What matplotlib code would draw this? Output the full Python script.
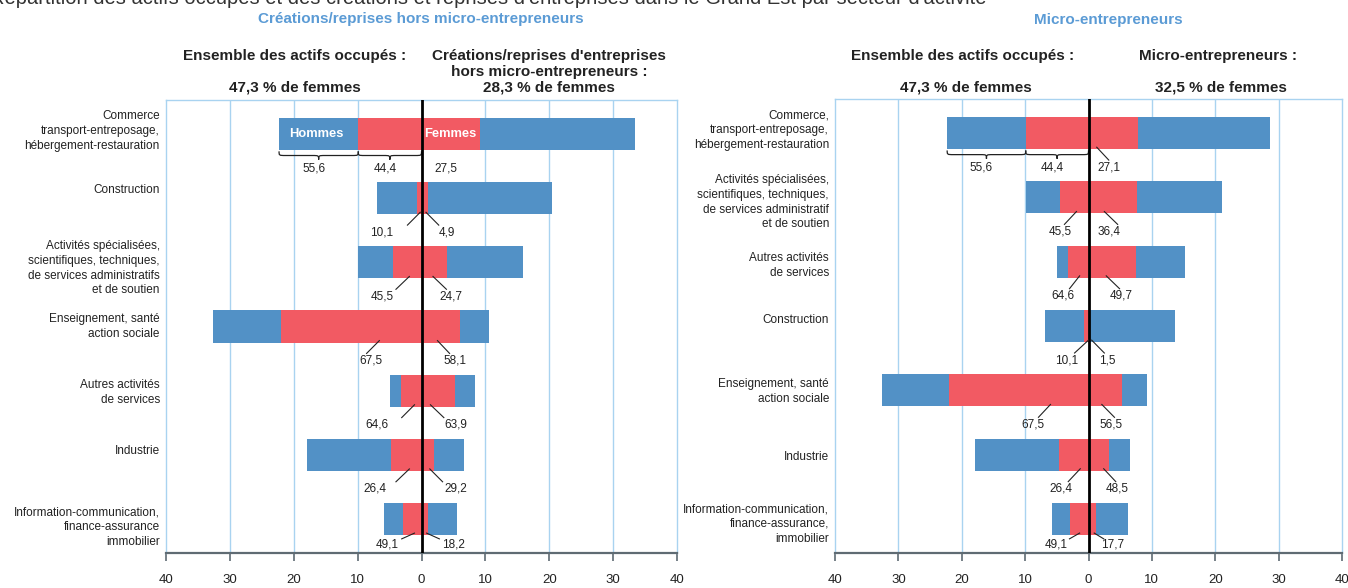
import numpy as np
import matplotlib
matplotlib.use("Agg")
import matplotlib.pyplot as plt
import matplotlib.transforms as mtransforms
from matplotlib.path import Path
from matplotlib.patches import PathPatch

plt.rcParams['font.family'] = ['Liberation Sans', 'DejaVu Sans']

# ---------------- data ----------------
# Left panel: créations/reprises hors micro-entrepreneurs
cats_left = ["Commerce\ntransport-entreposage,\nhébergement-restauration",
             "Construction",
             "Activités spécialisées,\nscientifiques, techniques,\nde services administratifs\net de soutien",
             "Enseignement, santé\naction sociale",
             "Autres activités\nde services",
             "Industrie",
             "Information-communication,\nfinance-assurance\nimmobilier"]
ens_share_left = [22.3, 6.9, 9.9, 32.6, 4.9, 17.9, 5.8]       # % of employed (left side)
ens_women_left = [44.4, 10.1, 45.5, 67.5, 64.6, 26.4, 49.1]   # % women in sector
crea_share = [33.5, 20.4, 15.9, 10.5, 8.3, 6.6, 5.5]          # % of creations
crea_women = [27.5, 4.9, 24.7, 58.1, 63.9, 29.2, 18.2]        # % women in creations
men_commerce = 55.6

# Right panel: micro-entrepreneurs
cats_right = ["Commerce,\ntransport-entreposage,\nhébergement-restauration",
              "Activités spécialisées,\nscientifiques, techniques,\nde services administratif\net de soutien",
              "Autres activités\nde services",
              "Construction",
              "Enseignement, santé\naction sociale",
              "Industrie",
              "Information-communication,\nfinance-assurance,\nimmobilier"]
ens_share_right = [22.3, 9.9, 4.9, 6.9, 32.6, 17.9, 5.8]
ens_women_right = [44.4, 45.5, 64.6, 10.1, 67.5, 26.4, 49.1]
micro_share = [28.6, 21.0, 15.2, 13.7, 9.3, 6.6, 6.3]
micro_women = [27.1, 36.4, 49.7, 1.5, 56.5, 48.5, 17.7]

xticks = [-40, -30, -20, -10, 0, 10, 20, 30, 40]

# ---------------- layout (annotation placement, data units) ----------------
# (label_x, line_at_bar_x, line_low_x) or None
ann_left_L = [None, (-6.3, -0.2, -2.2), (-6.2, -1.9, -4.0), (-7.9, -6.6, -8.6),
              (-6.9, -1.1, -3.1), (-7.3, -1.9, -4.0), (-5.4, -1.1, -3.1)]
ann_left_R = [None, (4.0, 0.7, 2.7), (4.6, 1.8, 3.9), (5.2, 2.5, 4.4),
              (5.4, 1.4, 3.5), (5.4, 1.3, 3.3), (5.0, 0.8, 2.8)]
ann_right_L = [None, (-4.4, -1.9, -3.8), (-4.1, -1.4, -3.0), (-3.4, 0.0, -2.2),
               (-8.7, -6.0, -7.9), (-4.3, -1.3, -3.2), (-5.1, -1.4, -3.0)]
ann_right_R = [(3.3, 1.3, 3.2), (3.3, 2.5, 4.6), (5.1, 2.8, 4.9), (3.0, 0.5, 2.5),
               (3.6, 2.1, 4.1), (4.5, 2.4, 4.3), (3.8, 0.9, 2.4)]
lab_dy_left = [-3, -8, 6, 0, 2, -4, 8]      # px offsets of category labels
lab_dy_right = [-3, 5, 4, -6, 1, 2, 5]

BLUE = "#5291c6"
RED = "#f25a63"
GRID = "#a9d3f0"
AXIS = "#5f6b73"
TITLE_BLUE = "#5b9bd5"
TXT = "#222222"
PX_ROW = 64.5
FS_CAT = 8.5
FS_VAL = 8.5

fig = plt.figure(figsize=(13.48, 5.88), dpi=100)
axL = fig.add_axes([166/1348, 1-553/588, 511/1348, 453/588])
axR = fig.add_axes([835/1348, 1-553/588, 507/1348, 454/588])


def fmt(v):
    return f"{v:.1f}".replace(".", ",")


def brace(ax, x0, x1, y, h, k):
    xm = (x0 + x1) / 2
    ym = y + h * 0.5
    verts = [(x0, y), (x0, ym), (x0, ym), (x0 + k, ym),
             (xm - k, ym),
             (xm, ym), (xm, ym), (xm, y + h),
             (xm, ym), (xm, ym), (xm + k, ym),
             (x1 - k, ym),
             (x1, ym), (x1, ym), (x1, y)]
    codes = [Path.MOVETO, Path.CURVE4, Path.CURVE4, Path.CURVE4,
             Path.LINETO,
             Path.CURVE4, Path.CURVE4, Path.CURVE4,
             Path.CURVE4, Path.CURVE4, Path.CURVE4,
             Path.LINETO,
             Path.CURVE4, Path.CURVE4, Path.CURVE4]
    ax.add_patch(PathPatch(Path(verts, codes), fc="none", ec=TXT, lw=0.9, zorder=4))


def panel(ax, cats, e_share, e_w, o_share, o_w, annL, annR, lab_dy):
    n = len(cats)
    y = np.arange(n)
    e_share = np.array(e_share); o_share = np.array(o_share)
    e_f = e_share * np.array(e_w) / 100
    o_f = o_share * np.array(o_w) / 100
    ax.barh(y, -e_share, height=0.5, color=BLUE, zorder=2)
    ax.barh(y, -e_f, height=0.5, color=RED, zorder=2)
    ax.barh(y, o_share, height=0.5, color=BLUE, zorder=2)
    ax.barh(y, o_f, height=0.5, color=RED, zorder=2)
    ax.set_xlim(-40, 40)
    ax.set_ylim(n - 0.47, -0.53)
    ax.axvline(0, color="black", lw=2.0, zorder=5)
    for gx in [-30, -20, -10, 10, 20, 30]:
        ax.axvline(gx, color=GRID, lw=1.0, zorder=1)
    for s in ["top", "left", "right"]:
        ax.spines[s].set_color(GRID)
        ax.spines[s].set_linewidth(1.0)
    ax.spines["bottom"].set_color(AXIS)
    ax.spines["bottom"].set_linewidth(1.6)
    ax.set_yticks([])
    ax.set_xticks(xticks)
    ax.set_xticklabels([str(abs(t)) for t in xticks], fontsize=9.5, color=TXT)
    ax.tick_params(axis="x", direction="out", length=5.8, width=1.2, color=AXIS, pad=9)
    trans = mtransforms.blended_transform_factory(ax.transAxes, ax.transData)
    for i, c in enumerate(cats):
        ax.text(-0.012, i + lab_dy[i] / PX_ROW, c, transform=trans, ha="right", va="center",
                fontsize=FS_CAT, color=TXT, linespacing=1.3)
    # value annotations
    for i in range(n):
        last = (i == n - 1)
        ly = i + (0.40 if last else 0.53)
        y_hi = i + 0.22
        y_lo = i + (0.31 if last else 0.42)
        for a, val in ((annL[i], e_w[i]), (annR[i], o_w[i])):
            if a is None:
                continue
            lx, xb, xl = a
            ax.plot([xb, xl], [y_hi, y_lo], color=TXT, lw=0.8, zorder=6)
            ax.text(lx, ly, fmt(val), ha="center", va="center", fontsize=FS_VAL, color=TXT)
    # braces on first row (left side)
    b_top = 0 + 0.27
    brace(ax, -e_share[0], -e_f[0], b_top, 0.13, 1.0)
    brace(ax, -e_f[0], 0, b_top, 0.13, 1.0)
    ax.text(-(e_share[0] + e_f[0]) / 2 - 0.8, 0.53, fmt(men_commerce), ha="center", va="center",
            fontsize=FS_VAL, color=TXT)
    ax.text(-5.7, 0.53, fmt(e_w[0]), ha="center", va="center",
            fontsize=FS_VAL, color=TXT)


panel(axL, cats_left, ens_share_left, ens_women_left, crea_share, crea_women,
      ann_left_L, ann_left_R, lab_dy_left)
axL.text(3.9, 0.53, fmt(crea_women[0]), ha="center", va="center", fontsize=FS_VAL, color=TXT)
axL.text(-16.5, 0, "Hommes", ha="center", va="center", color="white", fontsize=9.3, fontweight="bold", zorder=6)
axL.text(4.5, 0, "Femmes", ha="center", va="center", color="white", fontsize=9.3, fontweight="bold", zorder=6)

panel(axR, cats_right, ens_share_right, ens_women_right, micro_share, micro_women,
      ann_right_L, ann_right_R, lab_dy_right)

# ---------------- titles ----------------
fig.text(-10/1348, 1 - 4/588, "Répartition des actifs occupés et des créations et reprises d'entreprises dans le Grand Est par secteur d'activité",
         ha="left", va="baseline", fontsize=14.5, color="#333333")
fig.text(421/1348, 1 - 19/588, "Créations/reprises hors micro-entrepreneurs", ha="center", va="center",
         fontsize=11, fontweight="bold", color=TITLE_BLUE)
fig.text(1108/1348, 1 - 20/588, "Micro-entrepreneurs", ha="center", va="center",
         fontsize=11, fontweight="bold", color=TITLE_BLUE)

hdr = dict(ha="center", va="center", fontsize=11, fontweight="bold", color=TXT)
fig.text(295/1348, 1 - 56/588, "Ensemble des actifs occupés :", **hdr)
fig.text(295/1348, 1 - 88/588, "47,3 % de femmes", **hdr)
fig.text(549/1348, 1 - 56/588, "Créations/reprises d'entreprises", **hdr)
fig.text(549/1348, 1 - 72/588, "hors micro-entrepreneurs :", **hdr)
fig.text(549/1348, 1 - 88/588, "28,3 % de femmes", **hdr)
fig.text(963/1348, 1 - 56/588, "Ensemble des actifs occupés :", **hdr)
fig.text(966/1348, 1 - 88/588, "47,3 % de femmes", **hdr)
fig.text(1218/1348, 1 - 56/588, "Micro-entrepreneurs :", **hdr)
fig.text(1221/1348, 1 - 88/588, "32,5 % de femmes", **hdr)

fig.savefig("out.png", dpi=100)
